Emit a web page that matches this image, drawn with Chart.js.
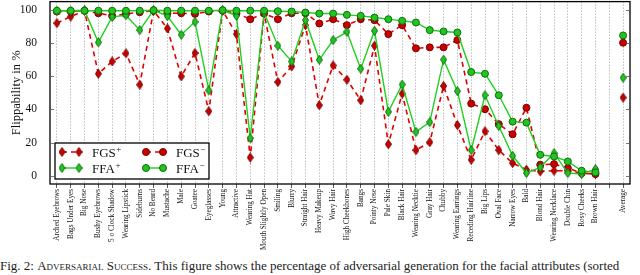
<!DOCTYPE html>
<html>
<head>
<meta charset="utf-8">
<script src="https://cdn.jsdelivr.net/npm/chart.js@4.4.1/dist/chart.umd.min.js"></script>
<style>
  html, body { margin: 0; padding: 0; background: #fff; }
  #wrap { position: relative; width: 640px; height: 275px; overflow: hidden; }
  #chart { position: absolute; left: 0; top: -4px; }
  #caption { position: absolute; left: 0; top: 258px; width: 760px; white-space: nowrap;
             font: 13px "Liberation Serif", serif; color: #222; }
</style>
</head>
<body>
<div id="wrap">
  <canvas id="chart" width="640" height="256"></canvas>
  <div id="caption">Fig. 2: <span style="font-variant:small-caps">Adversarial Success.</span> This figure shows the percentage of adversarial generation for the facial attributes (sorted</div>
</div>
<script>
// attributes, one empty slot, then the average
var categories = [
  'Arched Eyebrows', 'Bags Under Eyes', 'Big Nose', 'Bushy Eyebrows', '5 o Clock Shadow',
  'Wearing Lipstick', 'Sideburns', 'No Beard', 'Mustache', 'Male', 'Goatee', 'Eyeglasses',
  'Young', 'Attractive', 'Wearing Hat', 'Mouth Slightly Open', 'Smiling', 'Blurry',
  'Straight Hair', 'Heavy Makeup', 'Wavy Hair', 'High Cheekbones', 'Bangs', 'Pointy Nose',
  'Pale Skin', 'Black Hair', 'Wearing Necktie', 'Gray Hair', 'Chubby', 'Wearing Earrings',
  'Receding Hairline', 'Big Lips', 'Oval Face', 'Narrow Eyes', 'Bald', 'Blond Hair',
  'Wearing Necklace', 'Double Chin', 'Rosy Cheeks', 'Brown Hair', '', 'Average'
];

var fgsPlus = [92, 96, 99.5, 61.5, 68.9, 73.8, 54.9, 99.5, 88.8, 59.9, 74, 38.9,
  99.5, 85.4, 11, 98, 56.5, 65.9, 90.8, 42.5, 66.5, 57.9, 45.5, 78.4,
  19, 49.5, 15.4, 20.2, 54.1, 30.5, 9.6, 26.8, 15.4, 7.6, 3.6, 2.6,
  3, 3, 1.5, 1, null, 47.1];

var fgsMinus = [99, 99, 99.5, 98, 96.4, 97.5, 98.6, 99.5, 98, 98, 97.6, 99,
  99.5, 98, 94.4, 97.8, 94.4, 98, 98, 91.8, 94.4, 90.8, 94.4, 93.8,
  85.4, 90.8, 76.8, 77.4, 77.4, 81.8, 43.5, 40.1, 31.1, 25, 41, 6.6,
  7, 4.6, 1.6, 1, null, 80.2];

var ffaPlus = [99.5, 99.5, 99.8, 80.4, 95.8, 96.8, 87.8, 99.8, 96.2, 85, 92.8, 51.5,
  99.8, 96.4, 22.6, 98.4, 78.4, 68.9, 93.8, 69.9, 81.8, 86.8, 64.5, 87.4,
  38.5, 55, 26.4, 32.3, 70, 51, 15.4, 48.5, 30, 12, 1.6, 5,
  13.6, 1.6, 1, 4, null, 59.1];

var ffaMinus = [99.5, 99.5, 99.5, 99.5, 99.5, 99.5, 99.5, 99.8, 99.5, 99.5, 99.5, 99.5,
  99.8, 99.5, 99.5, 99.5, 99.2, 99, 98.4, 97.8, 97.8, 97, 96.4, 95.4,
  94.4, 93.4, 92.4, 87.8, 87, 86.4, 62.5, 61.5, 48.5, 32.6, 32, 12.6,
  11.6, 8.6, 3, 2, null, 84.6];

var yTicks = [0, 20, 40, 60, 80, 100];

var RED = '#e00000', RED_DARK = '#7a0000', RED_FILL = '#c80000';
var GREEN = '#1fd01f', GREEN_DARK = '#0c6e0c', GREEN_FILL = '#22c422';
var SERIF = '"Liberation Serif", "DejaVu Serif", serif';

function makeDiamond(fill, edge) {
  var c = document.createElement('canvas');
  c.width = 7; c.height = 10;
  var g = c.getContext('2d');
  g.beginPath();
  g.moveTo(3.5, 0.5); g.lineTo(6.5, 5); g.lineTo(3.5, 9.5); g.lineTo(0.5, 5);
  g.closePath();
  g.fillStyle = fill; g.fill();
  g.lineWidth = 1; g.strokeStyle = edge; g.stroke();
  return c;
}
var redDiamond = makeDiamond(RED_FILL, RED_DARK);
var greenDiamond = makeDiamond(GREEN_FILL, GREEN_DARK);

// frame round the plot with small inward ticks on both sides
var framePlugin = {
  id: 'frame',
  afterDraw: function(chart) {
    var ca = chart.chartArea, ctx = chart.ctx, y = chart.scales.y;
    ctx.save();
    ctx.strokeStyle = '#000';
    ctx.lineWidth = 1.3;
    ctx.strokeRect(ca.left, ca.top, ca.right - ca.left, ca.bottom - ca.top);
    ctx.lineWidth = 0.8;
    ctx.strokeStyle = '#555';
    yTicks.forEach(function(v) {
      var py = Math.round(y.getPixelForValue(v)) + 0.5;
      ctx.beginPath();
      ctx.moveTo(ca.left, py); ctx.lineTo(ca.left + 4, py);
      ctx.moveTo(ca.right, py); ctx.lineTo(ca.right - 4, py);
      ctx.stroke();
    });
    ctx.restore();
  }
};

// legend box inside the plot, bottom left
var legendPlugin = {
  id: 'boxLegend',
  afterDraw: function(chart) {
    var ca = chart.chartArea, ctx = chart.ctx;
    var bx = ca.left + 5, by = ca.bottom - 41, bw = 154, bh = 36;
    ctx.save();
    ctx.fillStyle = '#fff';
    ctx.fillRect(bx, by, bw, bh);
    ctx.strokeStyle = '#000';
    ctx.lineWidth = 1.3;
    ctx.strokeRect(bx, by, bw, bh);

    var items = [
      {ds: 0, col: 0, row: 0, name: 'FGS', sup: '+'},
      {ds: 1, col: 1, row: 0, name: 'FGS', sup: '\u2212'},
      {ds: 2, col: 0, row: 1, name: 'FFA', sup: '+'},
      {ds: 3, col: 1, row: 1, name: 'FFA', sup: '\u2212'}
    ];
    items.forEach(function(it) {
      var ds = chart.data.datasets[it.ds];
      var x0 = bx + 7 + it.col * 84, x1 = x0 + 17;
      var yy = by + 9 + it.row * 16;
      ctx.beginPath();
      ctx.setLineDash(ds.borderDash || []);
      ctx.strokeStyle = ds.borderColor;
      ctx.lineWidth = ds.borderWidth;
      ctx.moveTo(x0, yy); ctx.lineTo(x1, yy);
      ctx.stroke();
      ctx.setLineDash([]);
      [x0, x1].forEach(function(px) {
        if (ds.pointStyle === 'circle') {
          ctx.beginPath();
          ctx.arc(px, yy, ds.pointRadius, 0, Math.PI * 2);
          ctx.fillStyle = ds.pointBackgroundColor;
          ctx.fill();
          ctx.lineWidth = 1;
          ctx.strokeStyle = ds.pointBorderColor;
          ctx.stroke();
        } else {
          ctx.drawImage(ds.pointStyle, px - 3.5, yy - 5);
        }
      });
      ctx.fillStyle = '#111';
      ctx.textBaseline = 'alphabetic';
      ctx.font = '13px ' + SERIF;
      ctx.fillText(it.name, x1 + 13, yy + 5);
      var w = ctx.measureText(it.name).width;
      ctx.font = '9px ' + SERIF;
      ctx.fillText(it.sup, x1 + 13 + w + 0.5, yy - 0.5);
    });
    ctx.restore();
  }
};

var ctx = document.getElementById('chart').getContext('2d');
var myChart = new Chart(ctx, {
  type: 'line',
  data: {
    labels: categories,
    datasets: [{
      label: 'FGS+',
      data: fgsPlus,
      borderColor: RED,
      borderWidth: 1.6,
      borderDash: [5, 4],
      pointStyle: redDiamond,
      pointRadius: 4,
      order: 4
    }, {
      label: 'FGS-',
      data: fgsMinus,
      borderColor: RED,
      borderWidth: 1.6,
      borderDash: [5, 4],
      pointStyle: 'circle',
      pointRadius: 3.5,
      pointBackgroundColor: RED_FILL,
      pointBorderColor: RED_DARK,
      pointBorderWidth: 1,
      order: 3
    }, {
      label: 'FFA+',
      data: ffaPlus,
      borderColor: GREEN,
      borderWidth: 1.4,
      pointStyle: greenDiamond,
      pointRadius: 4,
      order: 2
    }, {
      label: 'FFA-',
      data: ffaMinus,
      borderColor: GREEN,
      borderWidth: 1.4,
      pointStyle: 'circle',
      pointRadius: 3.5,
      pointBackgroundColor: GREEN_FILL,
      pointBorderColor: GREEN_DARK,
      pointBorderWidth: 1,
      order: 1
    }]
  },
  options: {
    responsive: false,
    animation: false,
    spanGaps: false,
    layout: { padding: { top: 1, right: 10, left: 0, bottom: 0 } },
    elements: { line: { tension: 0, fill: false } },
    plugins: {
      legend: { display: false },
      tooltip: { enabled: false }
    },
    scales: {
      x: {
        type: 'category',
        offset: true,
        border: { display: false, dash: [1, 2] },
        grid: {
          color: '#888',
          lineWidth: 0.8,
          offset: false,
          drawTicks: true,
          tickLength: 4,
          tickColor: '#333',
          tickWidth: 0.8,
          tickBorderDash: []
        },
        ticks: {
          autoSkip: false,
          maxRotation: 90,
          minRotation: 90,
          padding: 1,
          color: '#111',
          font: { family: SERIF, size: 7.2 }
        },
        afterFit: function(scale) {
          scale.height = 68;
          scale.paddingLeft = 0;
          scale.paddingRight = 0;
        }
      },
      y: {
        min: -5,
        max: 105,
        border: { display: false },
        grid: { display: false },
        afterBuildTicks: function(scale) {
          scale.ticks = yTicks.map(function(v) { return { value: v }; });
        },
        ticks: {
          padding: 5,
          color: '#111',
          font: { family: SERIF, size: 11.5 }
        },
        title: {
          display: true,
          text: 'Flippability in %',
          color: '#111',
          padding: { top: 9, bottom: 0 },
          font: { family: SERIF, size: 12.5 }
        },
        afterFit: function(scale) {
          scale.width = 50;
          scale.paddingTop = 0;
          scale.paddingBottom = 0;
        }
      }
    }
  },
  plugins: [framePlugin, legendPlugin]
});
</script>
</body>
</html>
